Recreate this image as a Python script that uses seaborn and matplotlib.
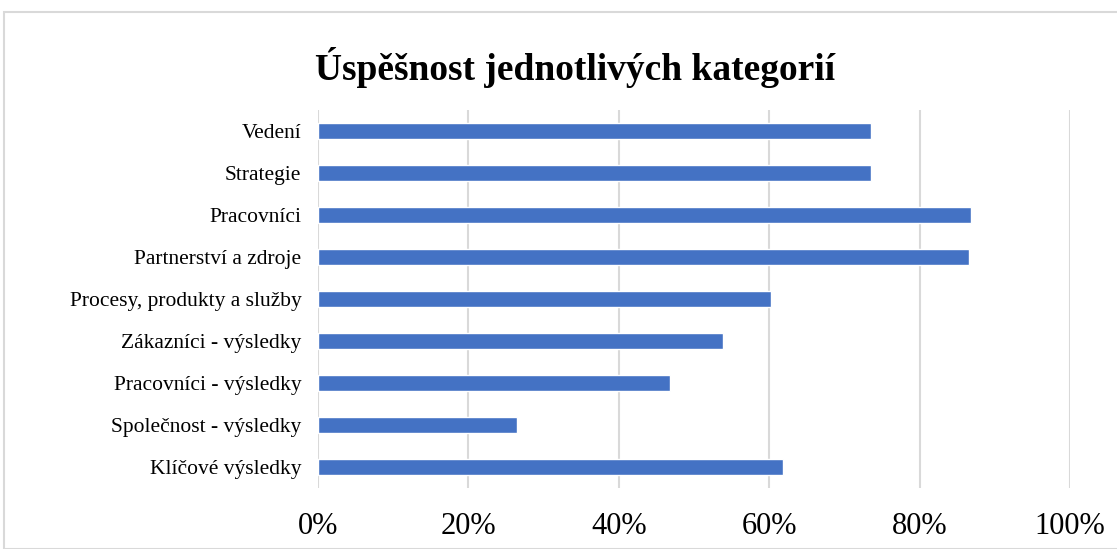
import matplotlib
matplotlib.use("Agg")
import matplotlib.pyplot as plt
import seaborn as sns
import pandas as pd
from matplotlib.patches import Rectangle
from matplotlib.ticker import FuncFormatter

categories = ["Vedení", "Strategie", "Pracovníci", "Partnerství a zdroje",
              "Procesy, produkty a služby", "Zákazníci - výsledky",
              "Pracovníci - výsledky", "Společnost - výsledky", "Klíčové výsledky"]
values = [73.5, 73.5, 86.8, 86.6, 60.2, 53.9, 46.8, 26.4, 61.8]
xticks = [0, 20, 40, 60, 80, 100]

df = pd.DataFrame({"cat": categories, "val": values})

sns.set_theme(style="white")
plt.rcParams['font.family'] = ['Liberation Serif', 'DejaVu Serif']

fig = plt.figure(figsize=(11.17, 5.49), dpi=100)
ax = fig.add_axes([318/1117, 1-488/549, (1070-318)/1117, (488-110)/549])

sns.barplot(data=df, y="cat", x="val", orient="h", color="#4472C4",
            width=0.38, saturation=1, ax=ax, zorder=3)

ax.set_xlim(0, 100)
ax.set_ylim(8.5, -0.5)
ax.set_xticks(xticks)
ax.xaxis.set_major_formatter(FuncFormatter(lambda v, p: f"{int(v)}%"))
ax.grid(axis="x", color="#d9d9d9", linewidth=1.5, zorder=0)
ax.grid(axis="y", visible=False)
for s in ax.spines.values():
    s.set_visible(False)
ax.set_xlabel("")
ax.set_ylabel("")
ax.tick_params(axis="x", length=0, pad=17, labelsize=22, colors="black")
ax.tick_params(axis="y", length=0, pad=12, labelsize=15.5, colors="black")

fig.text(575/1117, 1-68/549, "Úspěšnost jednotlivých kategorií",
         ha="center", va="center", fontsize=27, fontweight="bold", color="black")

fig.patches.append(Rectangle((4/1117, 0), 1.2, 1-12/549, transform=fig.transFigure,
                             fill=False, edgecolor="#d9d9d9", linewidth=1.5))

fig.savefig("out.png", dpi=100)
